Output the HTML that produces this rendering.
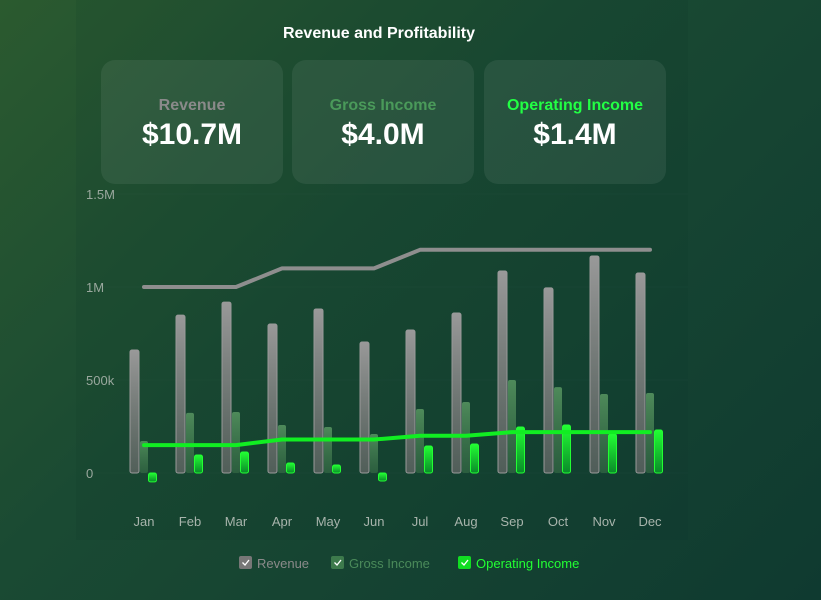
<!DOCTYPE html>
<html><head><meta charset="utf-8"><style>
body{margin:0;width:821px;height:600px;overflow:hidden;font-family:"Liberation Sans",sans-serif;background:linear-gradient(135deg,#2b5a2f 0%,#1a4a33 40%,#0f3a30 100%);position:relative}
#panel{position:absolute;left:76px;top:0;width:612px;height:540px;background:rgba(10,50,40,0.1)}
h1{position:absolute;left:0;width:758px;top:25px;margin:0;text-align:center;color:#fff;font-size:16px;font-weight:bold}
.card{position:absolute;top:60px;width:182px;height:124px;border-radius:14px;background:rgba(255,255,255,0.07);text-align:center}
.card .l{margin-top:37px;font-size:16px;font-weight:bold}
.card .v{font-size:30px;font-weight:bold;color:#fff;margin-top:3px}
svg{position:absolute;left:0;top:0}
</style></head><body>
<div id="panel"></div>
<h1>Revenue and Profitability</h1>
<div class="card" style="left:101px"><div class="l" style="color:#8a8a8a">Revenue</div><div class="v">$10.7M</div></div>
<div class="card" style="left:292px"><div class="l" style="color:#4a9a5a">Gross Income</div><div class="v">$4.0M</div></div>
<div class="card" style="left:484px"><div class="l" style="color:#22ff44">Operating Income</div><div class="v">$1.4M</div></div>
<svg id="c" width="821" height="600">
<defs>
<linearGradient id="gr" x1="0" y1="0" x2="0" y2="1"><stop offset="0" stop-color="#999"/><stop offset="1" stop-color="#6a6a6a" stop-opacity="0.7"/></linearGradient>
<linearGradient id="gg" x1="0" y1="0" x2="0" y2="1"><stop offset="0" stop-color="#4e8a5a"/><stop offset="1" stop-color="#3a7048" stop-opacity="0.6"/></linearGradient>
<linearGradient id="go" x1="0" y1="0" x2="0" y2="1"><stop offset="0" stop-color="#22ff33"/><stop offset="1" stop-color="#0a8a2a"/></linearGradient>
</defs>
</svg>
<script>
const months=["Jan","Feb","Mar","Apr","May","Jun","Jul","Aug","Sep","Oct","Nov","Dec"];
const revenue=[661,849,919,801,882,704,769,860,1086,995,1167,1075];
const gross=[172,323,328,258,247,210,344,382,500,462,425,430];
const operating=[-48,97,113,54,43,-43,145,156,247,258,210,231];
const revTarget=[1000,1000,1000,1100,1100,1100,1200,1200,1200,1200,1200,1200];
const opTarget=[150,150,150,180,180,180,200,200,220,220,220,220];
const ticks=[0,500,1000,1500];
const tickLabels=["0","500k","1M","1.5M"];
const svg=document.getElementById('c');const NS="http://www.w3.org/2000/svg";
const y=v=>473-v*0.186;const x=i=>144+i*46;
function mk(t,a){const e=document.createElementNS(NS,t);for(const k in a)e.setAttribute(k,a[k]);svg.appendChild(e);return e;}
ticks.forEach((t,i)=>{const g=mk('line',{x1:80,x2:688,y1:y(t),y2:y(t),stroke:'rgba(255,255,255,0.015)'});


const l=mk('text',{x:86,y:y(t)+5,fill:'#9aa89e','font-size':13});l.textContent=tickLabels[i];

});
months.forEach((m,i)=>{const t=mk('text',{x:x(i),y:526,fill:'#a8b4ac','font-size':13,'text-anchor':'middle'});t.textContent=m;


const r=mk('rect',{x:x(i)-14,y:y(revenue[i]),width:9,height:y(0)-y(revenue[i]),rx:2,fill:'url(#gr)',stroke:'#9a9a9a','stroke-width':1});


const g=mk('rect',{x:x(i)-4,y:y(gross[i]),width:8,height:y(0)-y(gross[i]),rx:2,fill:'url(#gg)'});


const v=operating[i];const o=mk('rect',{x:x(i)+4.5,y:Math.min(y(v),y(0)),width:8,height:Math.abs(y(0)-y(v)),rx:2,fill:'url(#go)',stroke:'#22ff33','stroke-width':1});

});
const p1=mk('polyline',{points:revTarget.map((v,i)=>x(i)+','+y(v)).join(' '),fill:'none',stroke:'#8e8e8e','stroke-width':4,'stroke-linecap':'round','stroke-linejoin':'round'});


const p2=mk('polyline',{points:opTarget.map((v,i)=>x(i)+','+y(v)).join(' '),fill:'none',stroke:'#11ee22','stroke-width':4,'stroke-linecap':'round','stroke-linejoin':'round'});


const leg=[[239,"Revenue","#8a8a8a","#777"],[331,"Gross Income","#4a8a5a","#3d7a4c"],[458,"Operating Income","#22ff33","#11dd22"]];
leg.forEach(l=>{const b=mk('rect',{x:l[0],y:556,width:13,height:13,rx:2,fill:l[3]});


const c=mk('path',{d:`M${l[0]+3.5} ${562.5}l2.5 2.5l4 -5`,stroke:'#fff','stroke-width':1.3,fill:'none'});


const t=mk('text',{x:l[0]+18,y:568,fill:l[2],'font-size':13});t.textContent=l[1];

});
</script>
</body></html>
